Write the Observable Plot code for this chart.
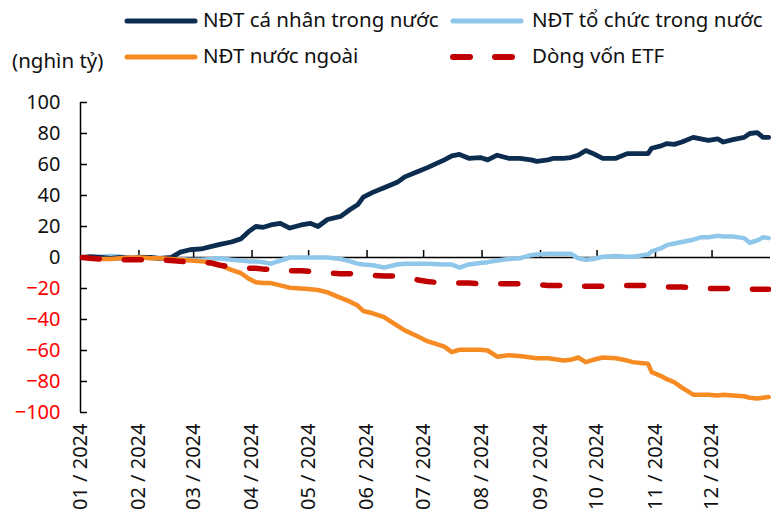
<!DOCTYPE html>
<html>
<head>
<meta charset="utf-8">
<script src="https://cdn.jsdelivr.net/npm/d3@7"></script>
<script src="https://cdn.jsdelivr.net/npm/@observablehq/plot@0.6"></script>
<style>
  body { margin: 0; background: #fff; font-family: "Noto Sans", sans-serif; }
  #wrap { position: relative; width: 771px; height: 513px; overflow: hidden; background: #fff; }
  .lg { position: absolute; font-size: 20.5px; color: #111; white-space: nowrap; line-height: 1; }
  .sw { position: absolute; }
  #chart { position: absolute; left: 0; top: 80px; }
</style>
</head>
<body>
<div id="wrap">
  <div id="legend"></div>
  <div id="chart"></div>
</div>
<script>
// ---- data (nghìn tỷ đồng, cumulative net flow 2024) ----
const dates = ["2024-01-02","2024-01-06","2024-01-12","2024-01-17","2024-01-22","2024-01-28","2024-02-02","2024-02-07","2024-02-12","2024-02-18","2024-02-23","2024-02-28","2024-03-05","2024-03-10","2024-03-15","2024-03-21","2024-03-26","2024-03-30","2024-04-03","2024-04-07","2024-04-11","2024-04-16","2024-04-21","2024-04-27","2024-05-02","2024-05-06","2024-05-11","2024-05-18","2024-05-23","2024-05-27","2024-05-30","2024-06-04","2024-06-10","2024-06-17","2024-06-21","2024-06-28","2024-07-03","2024-07-12","2024-07-16","2024-07-20","2024-07-25","2024-07-31","2024-08-04","2024-08-09","2024-08-15","2024-08-21","2024-08-27","2024-08-30","2024-09-05","2024-09-08","2024-09-13","2024-09-17","2024-09-21","2024-09-25","2024-09-29","2024-10-04","2024-10-11","2024-10-17","2024-10-20","2024-10-28","2024-10-30","2024-11-04","2024-11-07","2024-11-11","2024-11-15","2024-11-21","2024-11-25","2024-11-29","2024-12-04","2024-12-07","2024-12-12","2024-12-18","2024-12-21","2024-12-25","2024-12-28","2024-12-31"];

const individual = [0,0.5,0,-0.5,0,-0.5,0,0,-0.5,0,3.5,5,5.5,7,8.5,10,12,16.5,20,19.5,21,22,19,21,22,20,24.5,26.5,31,34,39,42,45,48.5,52,55.5,58,63,65.5,66.5,64,64.5,63,66,64,64,63,62,63,64,64,64.5,66,69,67,64,64,67,67,67,70.5,72,73.5,73,74.5,77.5,76.5,75.5,76.5,74.5,76,77.5,80,80.5,77.5,77.5];

const institutional = [0,0,0.5,1,0.5,0,0.5,0,-0.5,-1,-1,-1.5,-1.5,-1,-0.5,-1.5,-2,-2.5,-2.5,-3,-4,-2,0,0,0,0,0,-1,-2.5,-4,-4.5,-5,-6.5,-4.5,-4,-4,-4,-4.5,-4.5,-6.5,-4.5,-3.5,-3,-2,-1,-0.5,1.5,2,2.5,2.5,2.5,2.5,-0.5,-1.5,-1,0.5,1,0.5,0.5,2,4,6,8,9,10,11.5,13,13,14,13.5,13.5,12.5,9.5,11,13,12.5];

const foreign = [0,-0.5,-1,-1,-0.5,0,0,-0.5,-0.5,-1,-1.5,-2,-2.5,-3,-5,-8,-10,-13.5,-16,-16.5,-16.5,-18,-19.5,-20,-20.5,-21,-22.5,-26,-28.5,-31,-34.5,-36,-38.5,-44,-47,-51,-54,-57.5,-61,-59.5,-59.5,-59.5,-60,-64,-63,-63.5,-64.5,-65,-65,-65.5,-66.5,-66,-64.5,-67.5,-66,-64.5,-65,-66.5,-67.5,-68.5,-74,-76.5,-78.5,-80.5,-84,-88.5,-88.5,-88.5,-89,-88.5,-89,-89.5,-90.5,-91,-90.5,-90];

const etf = [0,-0.5,-1,-1,-1.5,-1.5,-1.5,-1.5,-1.5,-2,-2.5,-3,-3,-3.5,-5,-6,-6.5,-7,-7,-7.5,-7.5,-8,-8.5,-8.5,-9,-9.5,-10,-10.5,-10.5,-11,-11,-11.5,-12,-12,-13,-14.5,-15.5,-16.5,-16.5,-16.5,-16.5,-17,-17,-17,-17,-17,-17.5,-17.5,-18,-18,-18,-18,-18.5,-18.5,-18.5,-18.5,-18.5,-18,-18,-18,-18.5,-19,-19,-19,-19,-19.5,-19.5,-20,-20,-20,-20,-20.5,-20.5,-20.5,-20.5,-20.5];

const seriesNames = ["NĐT cá nhân trong nước", "NĐT tổ chức trong nước", "NĐT nước ngoài", "Dòng vốn ETF"];
const seriesColors = ["#0d2d50", "#8ec7ea", "#f68b24", "#c00000"];
const yTicks = [-100, -80, -60, -40, -20, 0, 20, 40, 60, 80, 100];
const monthTicks = ["2024-01-01","2024-02-01","2024-03-01","2024-04-01","2024-05-01","2024-06-01","2024-07-01","2024-08-01","2024-09-01","2024-10-01","2024-11-01","2024-12-01"];
const unitLabel = "(nghìn tỷ)";

// ---- build table ----
const keys = ["individual", "institutional", "foreign", "etf"];
const arrays = [individual, institutional, foreign, etf];
const rows = dates.map((d, i) => {
  const r = { date: new Date(d + "T00:00:00Z") };
  keys.forEach((k, j) => r[k] = arrays[j][i]);
  return r;
});
const months = monthTicks.map(d => new Date(d + "T00:00:00Z"));
const x0 = new Date("2024-01-01T00:00:00Z");
const x1 = new Date("2025-01-01T00:00:00Z");

// ---- legend ----
const legend = document.getElementById("legend");
const legendPos = [
  { sx: 127, tx: 203, cy: 21 },
  { sx: 453, tx: 532, cy: 21 },
  { sx: 127, tx: 203, cy: 57 },
  { sx: 453, tx: 532, cy: 57 }
];
seriesNames.forEach((name, i) => {
  const p = legendPos[i];
  const svgNS = "http://www.w3.org/2000/svg";
  const sw = document.createElementNS(svgNS, "svg");
  sw.setAttribute("width", 76); sw.setAttribute("height", 12);
  sw.setAttribute("class", "sw");
  sw.style.left = (p.sx - 4) + "px"; sw.style.top = (p.cy - 6) + "px";
  const ln = document.createElementNS(svgNS, "line");
  ln.setAttribute("x1", 4); ln.setAttribute("x2", 72);
  ln.setAttribute("y1", 6); ln.setAttribute("y2", 6);
  ln.setAttribute("stroke", seriesColors[i]);
  ln.setAttribute("stroke-width", i === 3 ? 6 : 5);
  ln.setAttribute("stroke-linecap", "round");
  if (i === 3) ln.setAttribute("stroke-dasharray", "17 25");
  sw.appendChild(ln);
  legend.appendChild(sw);
  const t = document.createElement("div");
  t.className = "lg"; t.textContent = name;
  t.style.left = p.tx + "px"; t.style.top = (p.cy - 12) + "px";
  legend.appendChild(t);
});
const u = document.createElement("div");
u.className = "lg"; u.textContent = unitLabel;
u.style.left = "12px"; u.style.top = "50px";
legend.appendChild(u);

// ---- chart ----
const chart = Plot.plot({
  width: 771,
  height: 433,
  marginLeft: 80,
  marginRight: 1,
  marginTop: 22,
  marginBottom: 101,
  style: { fontFamily: "Noto Sans, sans-serif", fontSize: "20px", color: "#111", background: "#fff" },
  x: { type: "utc", domain: [x0, x1] },
  y: { domain: [-100, 100] },
  color: { type: "identity" },
  marks: [
    Plot.ruleY([0], { stroke: "#000", strokeWidth: 1.5 }),
    Plot.ruleX(months.slice(1), { x: d => d, y1: 0, y2: 0, insetTop: -7, stroke: "#000", strokeWidth: 1.5 }),
    Plot.ruleX([x0], { y1: -100, y2: 100, stroke: "#000", strokeWidth: 1.5 }),
    Plot.ruleY(yTicks, { y: d => d, x1: x0, x2: x0, insetRight: -7, stroke: "#000", strokeWidth: 1.5 }),
    Plot.axisY({ ticks: yTicks, tickSize: 0, tickPadding: 20, label: null,
      fill: d => d < 0 ? "#ff0000" : "#111" }),
    Plot.axisX({ ticks: months, tickSize: 0, tickRotate: -90, tickPadding: 11, label: null,
      tickFormat: d3.utcFormat("%m / %Y") }),
    Plot.line(rows, { x: "date", y: "institutional", stroke: seriesColors[1], strokeWidth: 4.5 }),
    Plot.line(rows, { x: "date", y: "individual", stroke: seriesColors[0], strokeWidth: 4.8 }),
    Plot.line(rows, { x: "date", y: "foreign", stroke: seriesColors[2], strokeWidth: 4.5 }),
    Plot.line(rows, { x: "date", y: "etf", stroke: seriesColors[3], strokeWidth: 5.5, strokeDasharray: "17 25", strokeLinecap: "round" })
  ]
});
document.getElementById("chart").appendChild(chart);
</script>
</body>
</html>
